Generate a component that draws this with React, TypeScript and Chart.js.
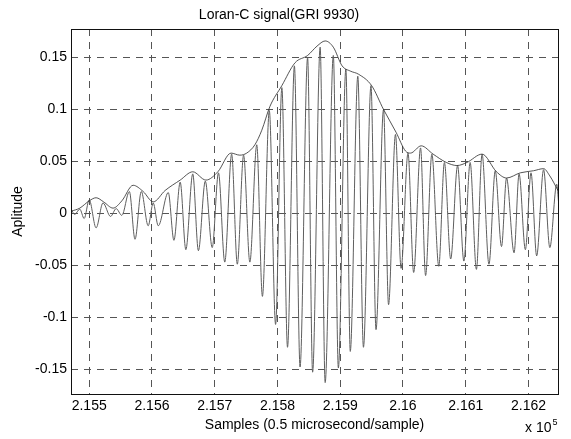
import { useEffect, useRef } from 'react';
import { Chart, registerables } from 'chart.js';

Chart.register(...registerables);

const FONT_FAMILY = '"Liberation Sans", Arial, Helvetica, sans-serif';

// Extremes (peaks and troughs) of the received Loran-C waveform: sample index and amplitude
const signalSamples = [
  215471, 215477, 215485, 215492, 215500, 215511, 215522, 215534, 215543, 215552,
  215564, 215573, 215583, 215594, 215602, 215610, 215626, 215635, 215645, 215654,
  215665, 215674, 215685, 215696, 215706, 215716, 215727, 215736, 215746, 215756,
  215767, 215776, 215787, 215797, 215807, 215816, 215827, 215836, 215848, 215856,
  215868, 215876, 215889, 215897, 215909, 215916, 215928, 215937, 215949, 215957,
  215969, 215977, 215988, 215997, 216008, 216017, 216028, 216036, 216046, 216057,
  216066, 216076, 216087, 216097, 216107, 216117, 216126, 216137, 216147, 216157,
  216165, 216177, 216185, 216195, 216204, 216213, 216224, 216234, 216245, 216248,
];
const signalValues = [
  0.004, -0.001, 0.004, -0.005, 0.013, -0.014, 0.010, -0.003, 0.0045, -0.002,
  0.021, -0.025, 0.021, -0.012, 0.010, -0.012, 0.020, -0.026, 0.030, -0.035,
  0.038, -0.036, 0.031, -0.033, 0.039, -0.047, 0.057, -0.049, 0.056, -0.047,
  0.066, -0.080, 0.099, -0.107, 0.121, -0.129, 0.142, -0.148, 0.150, -0.153,
  0.160, -0.163, 0.152, -0.149, 0.139, -0.133, 0.132, -0.129, 0.123, -0.112,
  0.100, -0.088, 0.076, -0.053, 0.058, -0.057, 0.063, -0.060, 0.057, -0.051,
  0.049, -0.044, 0.046, -0.046, 0.049, -0.054, 0.057, -0.049, 0.041, -0.032,
  0.034, -0.038, 0.038, -0.035, 0.039, -0.041, 0.042, -0.033, 0.028, 0.010,
];

// Upper envelope of the pulse
const envelopeSamples = [
  215471, 215485, 215500, 215511, 215523, 215538, 215552, 215570, 215586, 215602,
  215621, 215645, 215665, 215686, 215705, 215726, 215740, 215751, 215764, 215775,
  215788, 215807, 215828, 215848, 215863, 215876, 215889, 215903, 215916, 215929,
  215950, 215969, 215989, 216004, 216012, 216029, 216048, 216069, 216086, 216102,
  216126, 216149, 216165, 216187, 216208, 216224, 216234, 216247,
];
const envelopeValues = [
  0.002, 0.005, 0.012, 0.015, 0.011, 0.005, 0.012, 0.027, 0.021, 0.011,
  0.022, 0.032, 0.040, 0.032, 0.040, 0.058, 0.056, 0.058, 0.066, 0.080,
  0.103, 0.123, 0.145, 0.152, 0.161, 0.166, 0.160, 0.142, 0.137, 0.134,
  0.123, 0.100, 0.078, 0.060, 0.058, 0.065, 0.057, 0.049, 0.046, 0.049,
  0.057, 0.040, 0.034, 0.039, 0.041, 0.043, 0.036, 0.022,
];

const xTickValues = [215500, 215600, 215700, 215800, 215900, 216000, 216100, 216200];
const xTickLabels = ['2.155', '2.156', '2.157', '2.158', '2.159', '2.16', '2.161', '2.162'];
const yTickValues = [-0.15, -0.1, -0.05, 0, 0.05, 0.1, 0.15];
const yTickLabels = ['-0.15', '-0.1', '-0.05', '0', '0.05', '0.1', '0.15'];

const X_MIN = 215471;
const X_MAX = 216247;
const Y_MIN = -0.174;
const Y_MAX = 0.1775;

const TITLE = 'Loran-C signal(GRI 9930)';
const X_TITLE = 'Samples (0.5 microsecond/sample)';
const Y_TITLE = 'Aplitude';
const X_EXPONENT_BASE = 'x 10';
const X_EXPONENT = '5';

// Box around the axes plus the "x 10^5" multiplier under the x axis
const framePlugin = {
  id: 'axesFrame',
  afterDatasetsDraw(chart: any) {
    const { ctx, chartArea } = chart;
    const { left, top, right, bottom } = chartArea;
    ctx.save();
    ctx.strokeStyle = '#111';
    ctx.lineWidth = 1;
    ctx.setLineDash([]);
    ctx.strokeRect(left + 0.5, top + 0.5, right - left, bottom - top);
    ctx.fillStyle = '#000';
    ctx.textBaseline = 'alphabetic';
    ctx.textAlign = 'left';
    ctx.font = `14px ${FONT_FAMILY}`;
    const baseX = right - 33;
    const baseY = bottom + 38;
    ctx.fillText(X_EXPONENT_BASE, baseX, baseY);
    const w = ctx.measureText(X_EXPONENT_BASE).width;
    ctx.font = `9px ${FONT_FAMILY}`;
    ctx.fillText(X_EXPONENT, baseX + w + 1, baseY - 7);
    ctx.restore();
  },
};

export default function App() {
  const canvasRef = useRef<HTMLCanvasElement>(null);

  useEffect(() => {
    const canvas = canvasRef.current;
    if (!canvas) return;
    const font = { family: FONT_FAMILY, size: 14, weight: 'normal' as const };

    const chart = new Chart(canvas, {
      type: 'line',
      data: {
        datasets: [
          {
            label: 'Envelope',
            data: envelopeSamples.map((x, i) => ({ x, y: envelopeValues[i] })),
            borderColor: '#2a2a2a',
            borderWidth: 0.8,
            pointRadius: 0,
            cubicInterpolationMode: 'monotone',
            fill: false,
          },
          {
            label: 'Signal',
            data: signalSamples.map((x, i) => ({ x, y: signalValues[i] })),
            borderColor: '#5e5e5e',
            borderWidth: 1,
            pointRadius: 0,
            cubicInterpolationMode: 'monotone',
            fill: false,
          },
        ],
      },
      options: {
        animation: false,
        responsive: false,
        devicePixelRatio: 1,
        layout: { padding: { top: 0, right: 13, bottom: 0, left: 0 } },
        plugins: {
          legend: { display: false },
          tooltip: { enabled: false },
          title: {
            display: true,
            text: TITLE,
            color: '#000',
            font,
            padding: { top: 6.6, bottom: 5.6 },
          },
        },
        scales: {
          x: {
            type: 'linear',
            min: X_MIN,
            max: X_MAX,
            afterBuildTicks: (scale: any) => {
              scale.ticks = xTickValues.map((value) => ({ value }));
            },
            afterFit: (scale: any) => {
              scale.height = 45;
            },
            ticks: {
              callback: (_v: any, i: number) => xTickLabels[i],
              color: '#000',
              font,
              padding: 4,
              maxRotation: 0,
              autoSkip: false,
            },
            grid: { color: '#555', lineWidth: 1, drawTicks: false },
            border: { display: false, dash: [7, 6] },
            title: {
              display: true,
              text: X_TITLE,
              color: '#000',
              font,
              padding: { top: 0, bottom: 5.6 },
            },
          },
          y: {
            type: 'linear',
            min: Y_MIN,
            max: Y_MAX,
            afterBuildTicks: (scale: any) => {
              scale.ticks = yTickValues.map((value) => ({ value }));
            },
            afterFit: (scale: any) => {
              scale.width = 71;
            },
            ticks: {
              callback: (_v: any, i: number) => yTickLabels[i],
              color: '#000',
              font,
              padding: 4,
              autoSkip: false,
            },
            grid: { color: '#555', lineWidth: 1, drawTicks: false },
            border: { display: false, dash: [7, 6] },
            title: {
              display: true,
              text: Y_TITLE,
              color: '#000',
              font,
              padding: { top: 9.6, bottom: 0 },
            },
          },
        },
      },
      plugins: [framePlugin],
    });

    return () => chart.destroy();
  }, []);

  return (
    <div style={{ position: 'fixed', left: 0, top: 0, width: 571, height: 439, background: '#fff' }}>
      <canvas ref={canvasRef} width={571} height={439} />
    </div>
  );
}
